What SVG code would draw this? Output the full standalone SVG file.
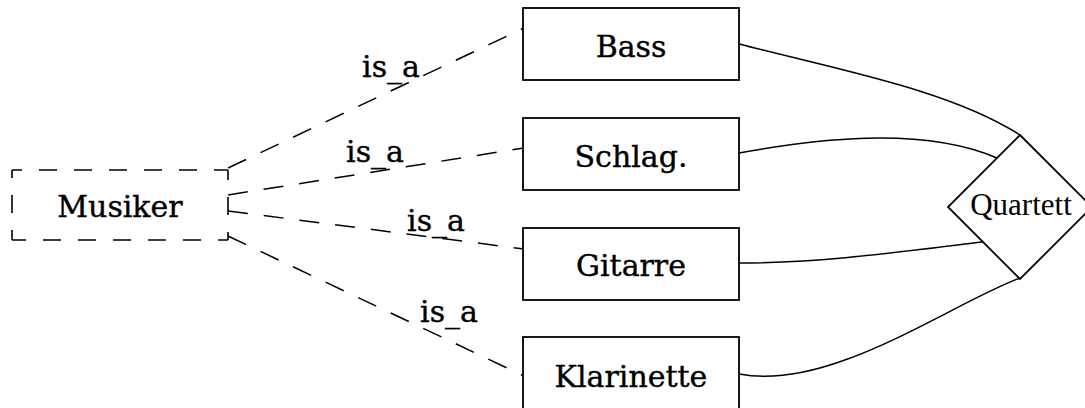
<svg xmlns="http://www.w3.org/2000/svg" width="1085" height="408" viewBox="0 0 1085 408">
<style>
.box{fill:#fff;stroke:#000;stroke-width:1.8}
.dbox{fill:none;stroke:#000;stroke-width:1.6;stroke-dasharray:18 17;stroke-dashoffset:8}
.lbl{font-family:"DejaVu Serif","Liberation Serif",serif;font-size:30px;fill:#000;stroke:#000;stroke-width:0.4;text-anchor:middle}
.isa{stroke:#000;stroke-width:1.5;fill:none;stroke-dasharray:20 16}
.rel{stroke:#000;stroke-width:1.5;fill:none}
.q{font-family:"Liberation Serif","Times New Roman",serif;font-size:31px;fill:#000;text-anchor:middle}
</style>
<g id="connectors">
<path class="isa" d="M228,168 L524,28"/>
<path class="isa" d="M228,195 L524,148"/>
<path class="isa" d="M228,211 L524,249"/>
<path class="isa" d="M228,236 L526,377"/>
<path class="rel" d="M739,44 C839,70 950,90 1020,135"/>
<path class="rel" d="M739,153 C810,140 920,125 997,158"/>
<path class="rel" d="M739,263 C820,263 900,252 982,242"/>
<path class="rel" d="M739,374 C830,392 950,304 1020,278"/>
<text class="lbl" x="391" y="77">is_a</text>
<text class="lbl" x="375" y="162">is_a</text>
<text class="lbl" x="436" y="231">is_a</text>
<text class="lbl" x="449" y="322">is_a</text>
</g>
<g id="musiker">
<path class="dbox" d="M12,170 L228,170"/>
<path class="dbox" d="M228,170 L228,240"/>
<path class="dbox" d="M228,240 L12,240"/>
<path class="dbox" d="M12,240 L12,170"/>
<text class="lbl" x="120" y="217">Musiker</text>
</g>
<g id="bass">
<rect class="box" x="523" y="8" width="216" height="72"/>
<text class="lbl" x="631" y="57">Bass</text>
</g>
<g id="schlag">
<rect class="box" x="523" y="118" width="216" height="72"/>
<text class="lbl" x="631" y="167">Schlag.</text>
</g>
<g id="gitarre">
<rect class="box" x="523" y="228" width="216" height="72"/>
<text class="lbl" x="631" y="276">Gitarre</text>
</g>
<g id="klarinette">
<rect class="box" x="523" y="337" width="216" height="72"/>
<text class="lbl" x="631" y="387">Klarinette</text>
</g>
<g id="quartett">
<polygon class="box" points="1020,135 1092,207 1020,279 948,207"/>
<text class="q" x="1021" y="215">Quartett</text>
</g>
</svg>
